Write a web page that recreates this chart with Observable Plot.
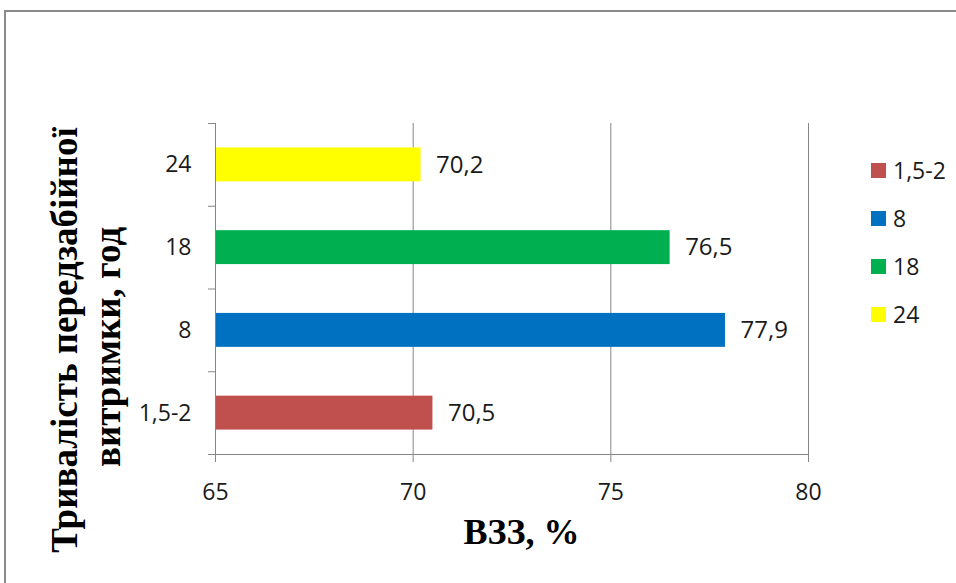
<!DOCTYPE html>
<html><head><meta charset="utf-8">
<script src="https://cdn.jsdelivr.net/npm/d3@7"></script>
<script src="https://cdn.jsdelivr.net/npm/@observablehq/plot@0.6"></script>
<style>
body{margin:0;background:#fff;overflow:hidden;}
#wrap{position:relative;width:956px;height:583px;overflow:hidden;background:#fff;}
#wrap > svg{position:absolute;left:0;top:0;}
#border{position:absolute;left:4px;top:10px;width:1200px;height:1200px;border-left:2px solid #8a8a8a;border-top:2px solid #8a8a8a;}
#legend{position:absolute;left:871px;top:163px;font-family:'Open Sans',sans-serif;font-size:23px;color:#1a1a1a;}
.item{position:relative;height:48px;}
.sw{position:absolute;left:0;top:0;width:15px;height:15px;}
.lb{position:absolute;left:22px;top:-8px;line-height:31px;white-space:nowrap;}
</style></head><body><div id="wrap"><div id="border"></div></div>
<script>
const categories = ["1,5-2", "8", "18", "24"];
const values = [70.5, 77.9, 76.5, 70.2];
const valueLabels = ["70,5", "77,9", "76,5", "70,2"];
const colors = ["#C0504D", "#0070C0", "#00B050", "#FFFF00"];
const xDomain = [65, 80];
const xTicks = [65, 70, 75, 80];
const xTitle = "ВЗЗ, %";
const yTitleLines = ["Тривалість передзабійної", "витримки, год"];

const data = categories.map((c, i) => ({cat: c, value: values[i], label: valueLabels[i]}));

const W = 956, H = 583, mL = 215, mR = 148, mT = 123, mB = 129;
const step = (H - mT - mB) / categories.length;
const grid = "#868686";
const txt = "#1a1a1a";
const font = "'Open Sans', sans-serif";

const chart = Plot.plot({
  width: W, height: H,
  marginLeft: mL, marginRight: mR, marginTop: mT, marginBottom: mB,
  style: {fontFamily: font, color: txt, background: "transparent", overflow: "visible"},
  x: {domain: xDomain, ticks: xTicks},
  y: {domain: categories.slice().reverse(), paddingInner: 0.59, paddingOuter: 0.295, round: false},
  color: {domain: categories, range: colors},
  marks: [
    Plot.ruleX(xTicks.slice(1), {stroke: grid, strokeWidth: 1}),
    Plot.barX(data, {x1: xDomain[0], x2: "value", y: "cat", fill: "cat"}),
    Plot.ruleX([xDomain[0]], {stroke: grid, strokeWidth: 1}),
    Plot.ruleY(data, {y: "cat", x1: xDomain[0], x2: xDomain[0], insetLeft: -7, dy: -step / 2, stroke: grid}),
    Plot.ruleY([data[0]], {y: "cat", x1: xDomain[0], x2: xDomain[1], insetLeft: -7, dy: step / 2, stroke: grid}),
    Plot.axisX({ticks: xTicks, tickSize: 8, tickPadding: 21, stroke: grid, fill: txt, fontSize: 23, label: null}),
    Plot.axisY({tickSize: 0, tickPadding: 24, fontSize: 23, fill: txt, label: null}),
    Plot.text(data, {x: "value", y: "cat", text: "label", textAnchor: "start", dx: 15, fontSize: 24, fill: txt})
  ]
});
document.getElementById("wrap").appendChild(chart);

// titles
const ov = d3.select("#wrap").append("svg").attr("width", W).attr("height", H)
  .style("position", "absolute").style("left", 0).style("top", 0);
const serif = "'Liberation Serif', 'Times New Roman', serif";
ov.append("text").attr("x", 521.5).attr("y", 544).attr("text-anchor", "middle")
  .attr("font-family", serif).attr("font-weight", "bold").attr("font-size", 36).attr("fill", "#000")
  .text(xTitle);
const yCenters = [[77, 340], [120, 347]];
yTitleLines.forEach((line, i) => {
  ov.append("text").attr("transform", `translate(${yCenters[i][0]},${yCenters[i][1]}) rotate(-90)`)
    .attr("text-anchor", "middle").attr("font-family", serif).attr("font-weight", "bold")
    .attr("font-size", 37).attr("fill", "#000").text(line);
});

// legend
const lg = d3.select("#wrap").append("div").attr("id", "legend");
categories.forEach((c, i) => {
  const it = lg.append("div").attr("class", "item");
  it.append("div").attr("class", "sw").style("background", colors[i]);
  it.append("div").attr("class", "lb").text(c);
});
</script>
</body></html>
